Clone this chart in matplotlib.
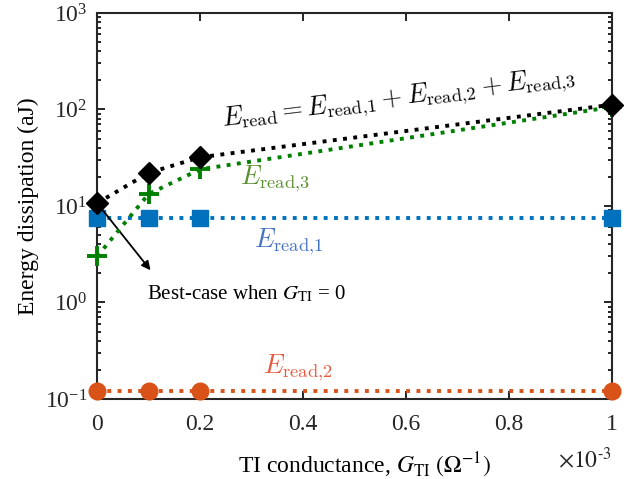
import numpy as np
import matplotlib.pyplot as plt

# data (x in units of 1e-3 S)
g_ti = [0, 0.1, 0.2, 1.0]
e_total = [10.7, 22.0, 32.0, 112.0]
e_read1 = [7.5, 7.5, 7.5, 7.5]
e_read2 = [0.12, 0.12, 0.12, 0.12]
e_read3 = [3.0, 13.3, 24.0, 106.0]

plt.rcParams['font.family'] = ['Liberation Serif', 'DejaVu Serif']
plt.rcParams['mathtext.fontset'] = 'stix'

fig = plt.figure(figsize=(6.39, 4.79), dpi=100)
ax = fig.add_axes([0.152, 0.167, 0.806, 0.806])

ax.plot(g_ti, e_read1, ':', color='#0072BD', lw=2.8, marker='s', ms=11, clip_on=False, zorder=3)
ax.plot(g_ti, e_read2, ':', color='#D95319', lw=2.8, marker='o', ms=12, clip_on=False, zorder=3)
ax.plot(g_ti, e_read3, ':', color='#008000', lw=2.8, marker='+', ms=14, mew=2.8, clip_on=False, zorder=4)
ax.plot(g_ti, e_total, ':', color='black', lw=2.8, marker='D', ms=11, clip_on=False, zorder=5)

ax.set_yscale('log')
ax.set_ylim(0.1, 1000)
ax.set_xlim(0, 1)
ax.set_xticks([0, 0.2, 0.4, 0.6, 0.8, 1.0])
ax.set_xticklabels(['0', '0.2', '0.4', '0.6', '0.8', '1'])
ax.tick_params(which='both', direction='in', top=True, right=True, labelsize=17,
               width=1.2, labelcolor='#262626')
ax.tick_params(which='major', length=6, pad=7)
ax.tick_params(which='minor', length=3)
ax.tick_params(axis='x', which='major', pad=11)
for s in ax.spines.values():
    s.set_linewidth(1.5)
    s.set_color('#262626')

ax.set_ylabel('Energy dissipation (aJ)', fontsize=17, labelpad=4)
ax.set_xlabel(r'TI conductance, $G_{\rm TI}$ $(\Omega^{-1})$', fontsize=17)
ax.xaxis.set_label_coords(0.52, -0.132)
ax.text(1.0, -0.178, r'$\times10^{\text{-}3}$', transform=ax.transAxes, ha='right', va='baseline',
        fontsize=17, color='#262626')

ax.text(0.585, 128,
        r'$E_{\rm read}=E_{{\rm read}{,}1}+E_{{\rm read}{,}2}+E_{{\rm read}{,}3}$',
        fontsize=19, ha='center', va='center', rotation=7, math_fontfamily='cm')
ax.text(0.345, 19, r'$E_{{\rm read}{,}3}$', color='#5B9030', fontsize=19, ha='center',
        va='center', math_fontfamily='cm')
ax.text(0.372, 4.3, r'$E_{{\rm read}{,}1}$', color='#4472C4', fontsize=19, ha='center',
        va='center', math_fontfamily='cm')
ax.text(0.39, 0.21, r'$E_{{\rm read}{,}2}$', color='#E85A40', fontsize=19, ha='center',
        va='center', math_fontfamily='cm')

ax.annotate('', xy=(0.107, 2.05), xytext=(0.0, 10.7),
            arrowprops=dict(arrowstyle='-|>', color='black', lw=1.3, mutation_scale=13))
ax.text(0.097, 1.22, r'Best-case when $G_{\rm TI}$ = 0', fontsize=15, ha='left', va='center')

fig.savefig('out.png', dpi=100)
